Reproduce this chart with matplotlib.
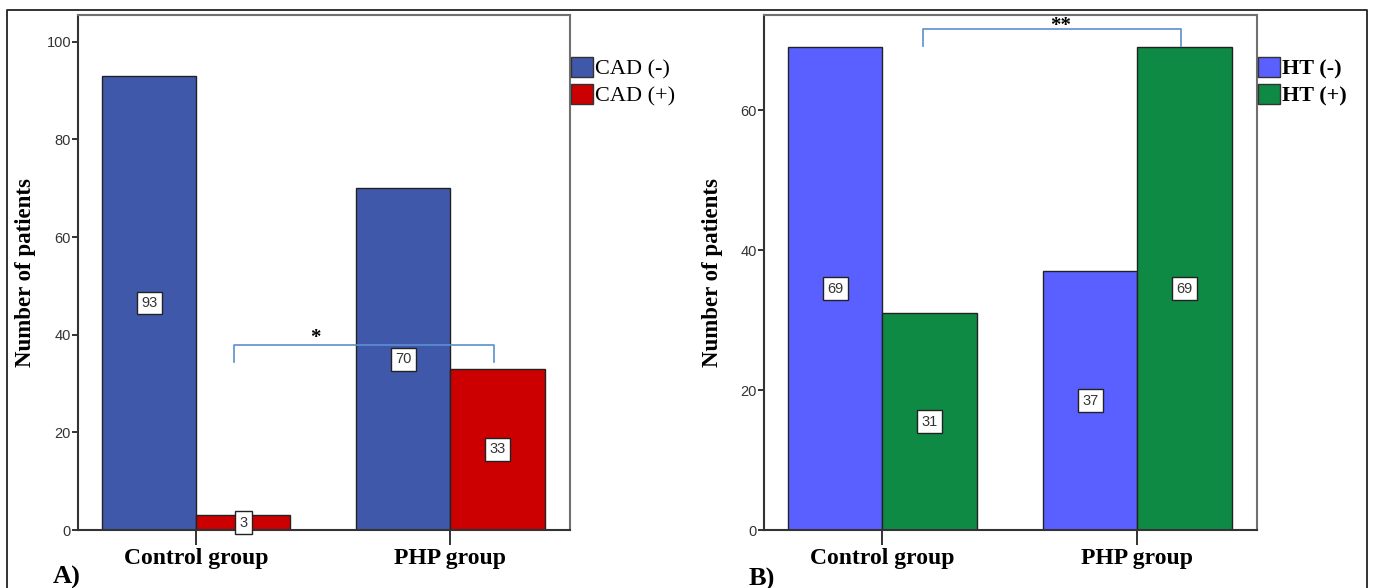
import matplotlib
matplotlib.use("Agg")
import matplotlib.pyplot as plt
from matplotlib.lines import Line2D
from matplotlib.patches import Patch
import numpy as np

GROUPS = ["Control group", "PHP group"]

CAD_NEG = [93, 70]
CAD_POS = [3, 33]
CAD_LABELS = ["CAD (-)", "CAD (+)"]

HT_NEG = [69, 37]
HT_POS = [31, 69]
HT_LABELS = ["HT (-)", "HT (+)"]

SERIF = ["Liberation Serif", "DejaVu Serif"]
NARROW = ["Liberation Sans Narrow", "Liberation Sans", "DejaVu Sans"]

W = 0.37


def panel(fig, rect, neg, pos, labels, colors, ylim, yticks, legend_bold,
          bracket, star, label_x):
    ax = fig.add_axes(rect)
    x = np.arange(len(GROUPS))
    for vals, off, col in [(neg, -W / 2, colors[0]), (pos, W / 2, colors[1])]:
        ax.bar(x + off, vals, W, color=col, edgecolor="#222222", linewidth=1.0, zorder=2)
        for xi, v in zip(x + off, vals):
            ax.text(xi, v / 2, str(v), ha="center", va="center", fontsize=10.5,
                    family=NARROW, color="#333333", zorder=4,
                    bbox=dict(boxstyle="square,pad=0.3", fc="white", ec="#222222", lw=1.0))

    ax.set_xlim(-0.465, 1.47)
    ax.set_ylim(*ylim)
    ax.set_yticks(yticks)
    ax.set_xticks(x)
    ax.set_xticklabels(GROUPS, family=SERIF, fontsize=17, fontweight="bold")
    ax.tick_params(axis="x", length=11, width=1.4, color="#333333", pad=2)
    ax.tick_params(axis="y", length=4, width=1.4, color="#333333", pad=1,
                   labelsize=10.5, labelcolor="#333333")
    for t in ax.get_yticklabels():
        t.set_family(NARROW)
    for s in ax.spines.values():
        s.set_color("#707070")
        s.set_linewidth(1.5)
    ax.spines["bottom"].set_color("#333333")
    ax.spines["left"].set_color("#333333")

    ax.set_ylabel("Number of patients", family=SERIF, fontsize=16.5, fontweight="bold")
    ax.yaxis.set_label_coords(label_x, 0.5)

    handles = [Patch(fc=c, ec="#333333", lw=1.0) for c in colors]
    ax.legend(handles, labels, loc="upper left", bbox_to_anchor=(1.003, 0.919),
              frameon=False, borderpad=0, borderaxespad=0, handlelength=0.95,
              handleheight=1.0, handletextpad=0.1, labelspacing=0.2,
              prop=dict(family=SERIF, size=16,
                        weight="bold" if legend_bold else "normal"))

    (x0, x1, ytop, yleg), (sx, sy, stxt) = bracket, star
    ax.plot([x0, x0, x1, x1], [yleg, ytop, ytop, yleg], color="#5b8fd0", lw=1.2, zorder=3,
            clip_on=False)
    ax.text(sx, sy, stxt, ha="center", va="center", fontsize=15, fontweight="bold",
            family=SERIF, zorder=5)
    return ax


def main():
    fig = plt.figure(figsize=(13.73, 5.88), dpi=100)

    panel(fig, [78 / 1373, 1 - 530 / 588, 492 / 1373, 515 / 588], CAD_NEG, CAD_POS,
          CAD_LABELS, ["#3f58aa", "#cc0000"], (0, 105.5), [0, 20, 40, 60, 80, 100], False,
          (0.15, 1.17, 37.9, 34.4), (0.47, 39.3, "*"), -0.085)
    panel(fig, [764 / 1373, 1 - 530 / 588, 493 / 1373, 515 / 588], HT_NEG, HT_POS,
          HT_LABELS, ["#5a60ff", "#0e8a45"], (0, 73.6), [0, 20, 40, 60], True,
          (0.16, 1.17, 71.6, 69.1), (0.70, 72.0, "**"), -0.083)

    fig.text(53 / 1373, 1 - 577 / 588, "A)", family=SERIF, fontsize=19, fontweight="bold",
             va="center", ha="left")
    fig.text(749 / 1373, 1 - 579 / 588, "B)", family=SERIF, fontsize=19, fontweight="bold",
             va="center", ha="left")

    # outer frame around both panels (open at the bottom)
    fx0, fx1, fy = 7 / 1373, 1367 / 1373, 1 - 10 / 588
    fig.add_artist(Line2D([fx0, fx0, fx1, fx1], [0, fy, fy, 0], color="#222222", lw=1.3,
                          transform=fig.transFigure))

    fig.savefig("out.png", dpi=100, facecolor="white")
    plt.close(fig)


if __name__ == "__main__":
    main()
